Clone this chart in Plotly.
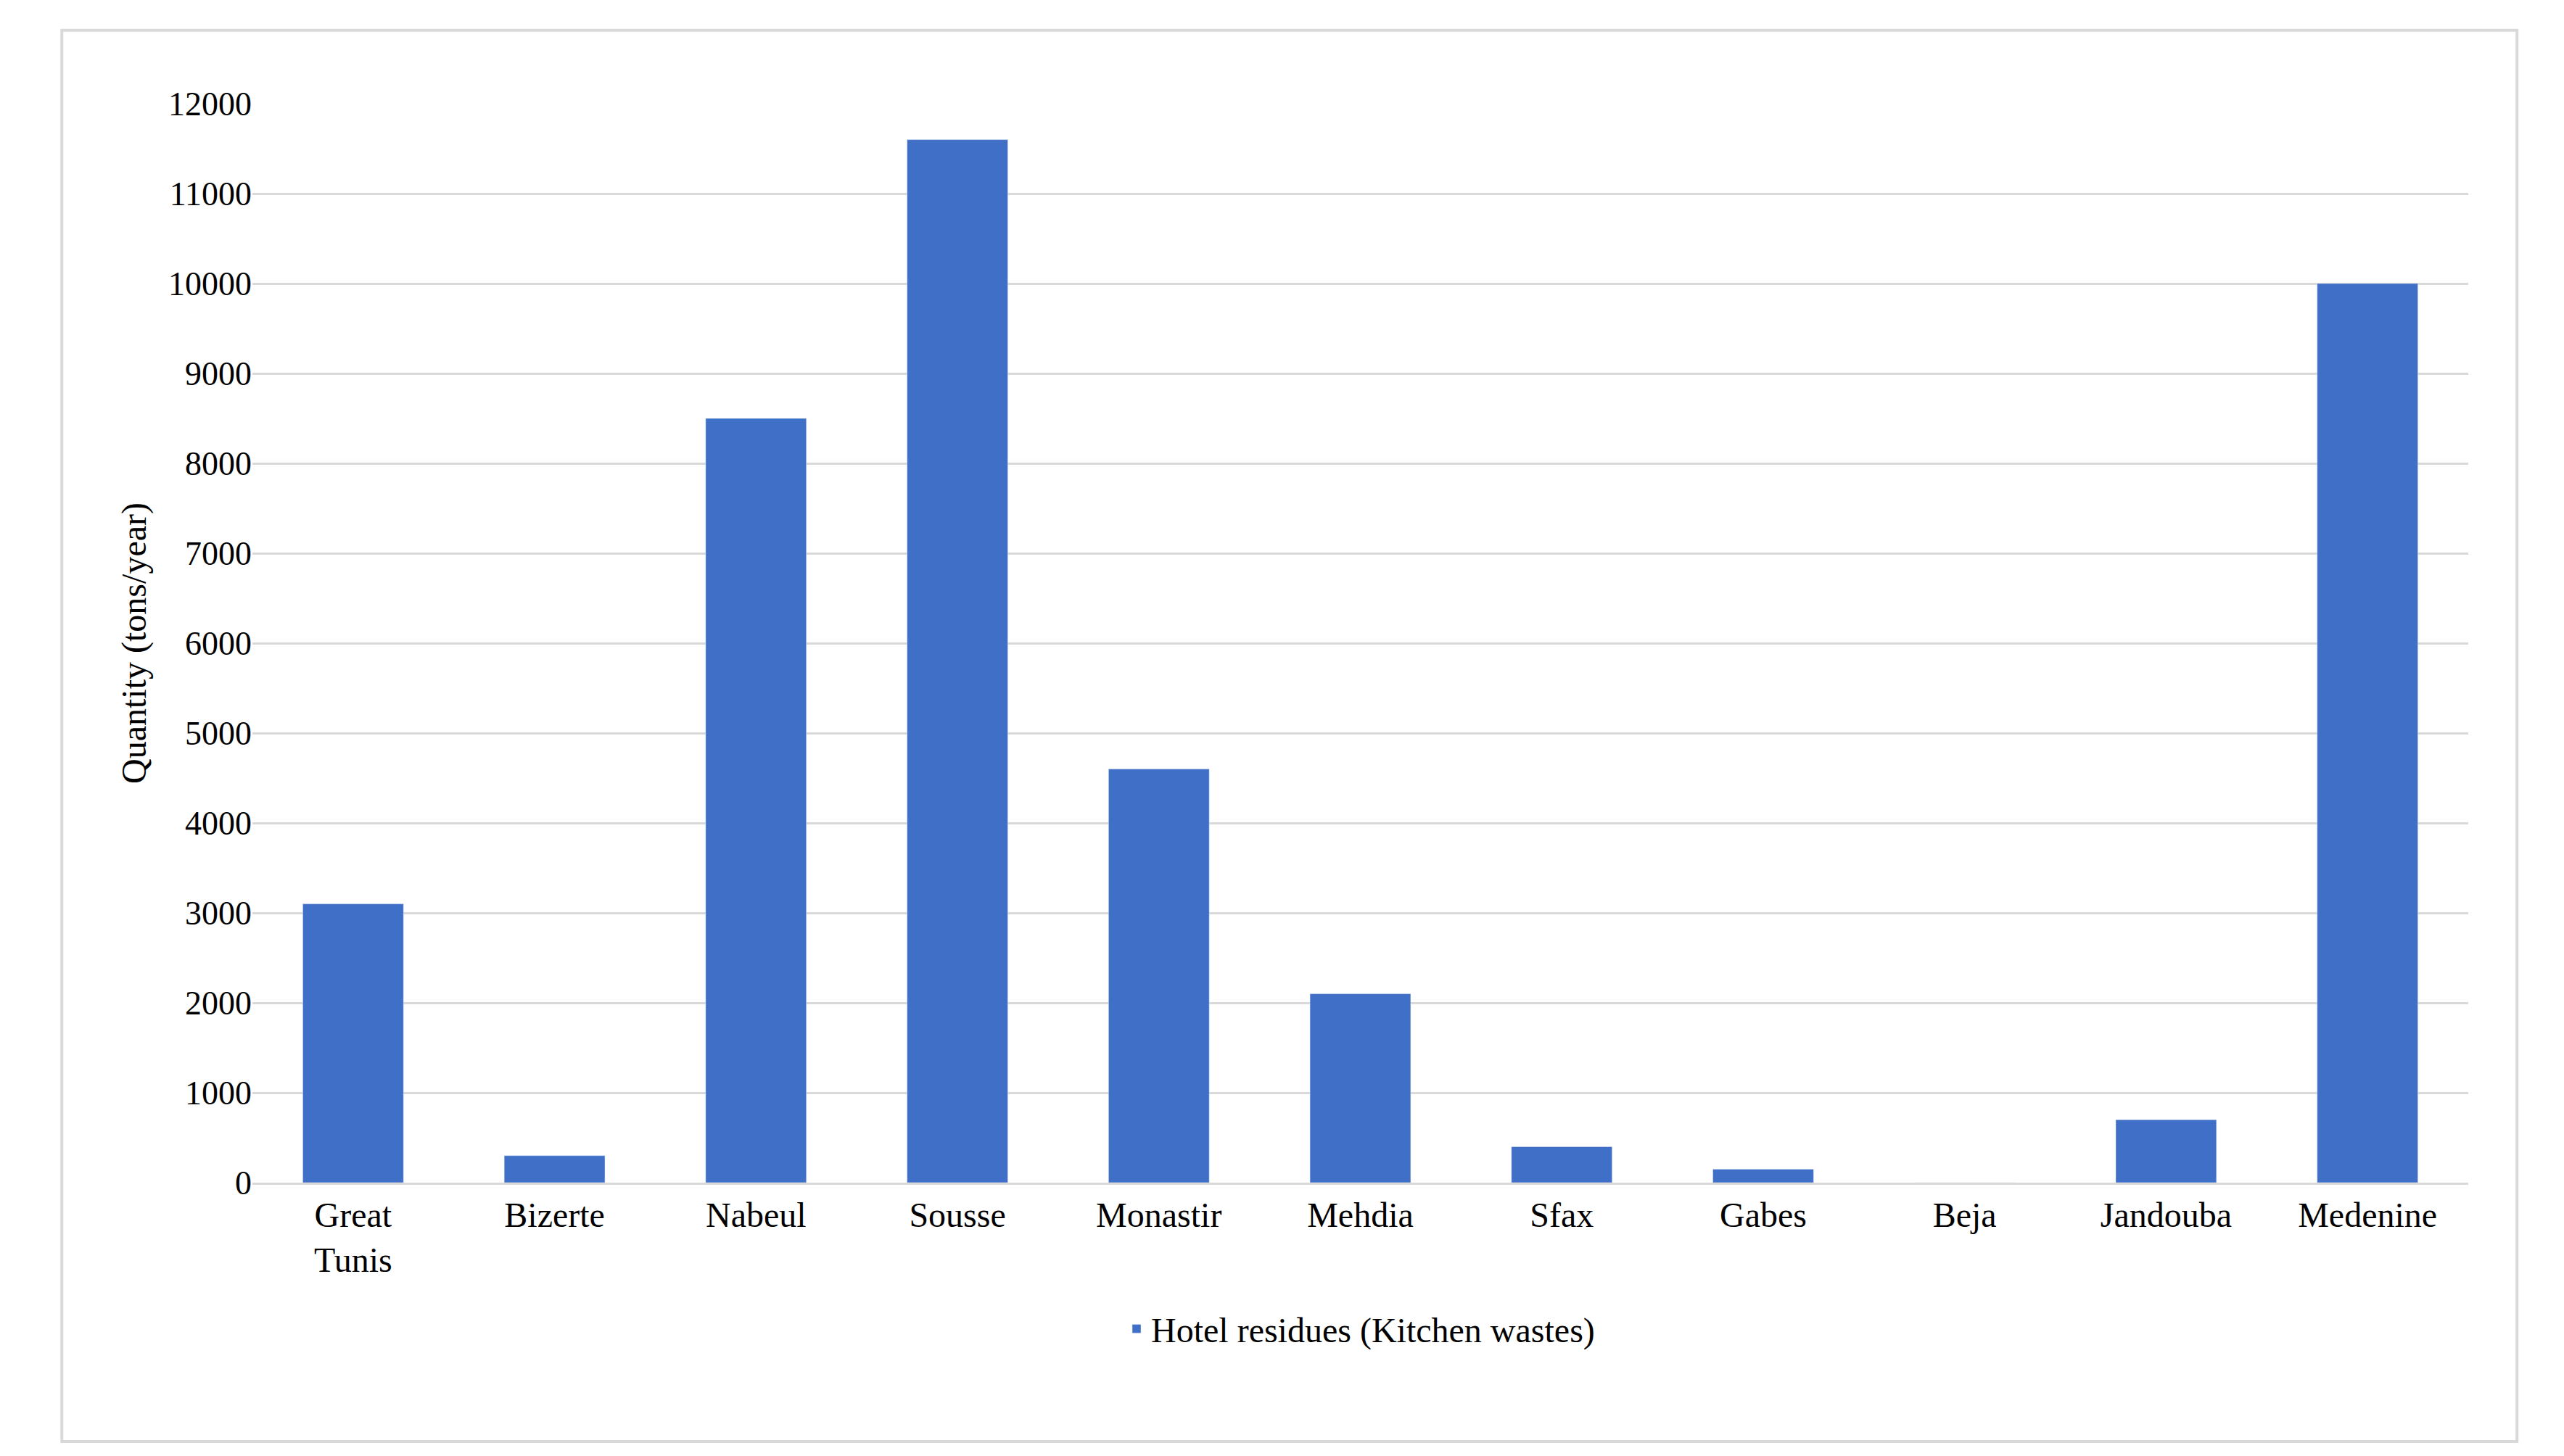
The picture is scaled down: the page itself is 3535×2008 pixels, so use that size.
import plotly.graph_objects as go

regions = ["Great<br>Tunis", "Bizerte", "Nabeul", "Sousse", "Monastir", "Mehdia",
           "Sfax", "Gabes", "Beja", "Jandouba", "Medenine"]
quantity = [3100, 300, 8500, 11600, 4600, 2100, 400, 150, 0, 700, 10000]

font = "Liberation Serif, DejaVu Serif, serif"

fig = go.Figure(go.Bar(
    x=regions, y=quantity, name="Hotel residues (Kitchen wastes)",
    marker=dict(color="#3f6fc6"), width=0.5
))

fig.update_layout(
    width=3535, height=2008,
    paper_bgcolor="white", plot_bgcolor="white",
    margin=dict(l=340, r=140, t=135, b=385),
    font=dict(family=font, size=46, color="#000000"),
    showlegend=True,
    legend=dict(orientation="h", x=0.5, xanchor="center", y=-0.11, yanchor="top",
                font=dict(size=48)),
    xaxis=dict(showgrid=False, showline=True, linecolor="#d9d9d9", linewidth=3,
               ticks="", tickfont=dict(size=48)),
    yaxis=dict(range=[0, 12000], dtick=1000, tickformat="d", showgrid=True,
               gridcolor="#d9d9d9", gridwidth=3, zeroline=False, ticks="",
               title=dict(text="Quantity (tons/year)", font=dict(size=48), standoff=15)),
    shapes=[dict(type="rect", xref="paper", yref="paper",
                 x0=-0.086, x1=1.022, y0=-0.24, y1=1.068,
                 line=dict(color="#d9d9d9", width=4))],
)

fig.write_html("out.html")
